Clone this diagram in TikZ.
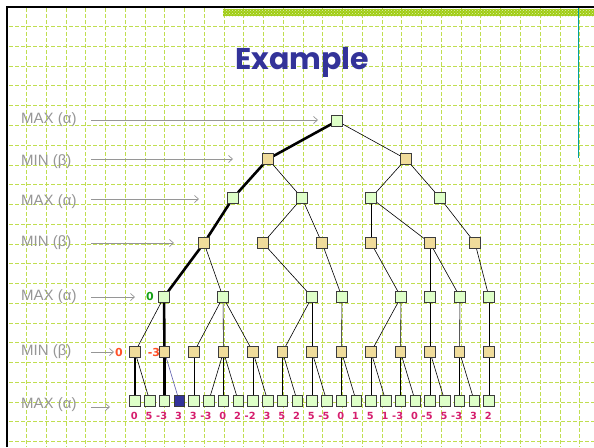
\documentclass[tikz,border=0pt]{standalone}
\usepackage{fontspec}
\setmainfont{Liberation Sans}
\newfontfamily\titlefont{Poppins}
\newfontfamily\numfont{DejaVu Sans}
\usetikzlibrary{patterns,backgrounds,arrows.meta}
\definecolor{gridc}{RGB}{192,222,80}
\definecolor{barc}{RGB}{160,205,20}
\definecolor{titleblue}{RGB}{51,51,153}
\definecolor{maxc}{RGB}{222,255,200}
\definecolor{minc}{RGB}{240,220,155}
\definecolor{lblgray}{RGB}{150,150,150}
\definecolor{leafc}{RGB}{214,30,110}
\definecolor{redc}{RGB}{255,80,40}
\definecolor{greenc}{RGB}{20,160,20}
\definecolor{tealc}{RGB}{0,160,160}
\tikzset{
  gridline/.style={draw=gridc, line width=1pt, dash pattern=on 4pt off 2pt},
  tnode/.style={rectangle, minimum size=10.5pt, inner sep=0pt, draw={rgb,255:red,60;green,60;blue,60}, line width=0.8pt},
  maxn/.style={tnode, fill=maxc},
  minn/.style={tnode, fill=minc},
  edge/.style={draw=black, line width=0.6pt},
  thick edge/.style={draw=black, line width=2.6pt},
  rowlbl/.style={font=\fontsize{15}{15}\selectfont, text=lblgray, inner sep=0pt},
  lblarrow/.style={draw=lblgray, line width=0.7pt, -{Straight Barb[length=4pt,width=7pt]}},
  leafnum/.style={font=\numfont\bfseries\fontsize{9.8}{9.8}\selectfont, text=leafc, inner sep=0pt},
  valnum/.style={font=\numfont\bfseries\fontsize{11}{11}\selectfont, inner sep=0pt}
}
\begin{document}
\begin{tikzpicture}[x=1pt,y=-1pt]
\useasboundingbox (0,0) rectangle (594,447);
\begin{pgfonlayer}{background}
\fill[white] (0,0) rectangle (594,447);
\foreach \k in {0,...,28} \draw[gridline] ({26.5+19.76*\k},8) -- ({26.5+19.76*\k},447);
\foreach \k in {0,...,21} \draw[gridline] (9,{26.7+19.76*\k}) -- (594,{26.7+19.76*\k});
\fill[barc] (223,8.5) rectangle (594,16);
\fill[pattern=crosshatch dots, pattern color=white!70!barc] (223,8.5) rectangle (594,16);
\draw[tealc, line width=1pt] (578,8) -- (578,158);
\draw[black, line width=2.6pt] (7,447) -- (7,7) -- (594,7);
\end{pgfonlayer}

% title
\node[font=\titlefont\bfseries\fontsize{30}{30}\selectfont, text=titleblue] (title) at (302,62) {Example};

% row labels
\node[rowlbl, anchor=west] (l0) at (21,120) {MAX (α)};
\node[rowlbl, anchor=west] (l1) at (21,162) {MIN (β)};
\node[rowlbl, anchor=west] (l2) at (21,202) {MAX (α)};
\node[rowlbl, anchor=west] (l3) at (21,243) {MIN (β)};
\node[rowlbl, anchor=west] (l4) at (21,297) {MAX (α)};
\node[rowlbl, anchor=west] (l5) at (21,352) {MIN (β)};
\node[rowlbl, anchor=west] (l6) at (21,405) {MAX (α)};
\coordinate (s0) at (91,120); \coordinate (t0) at (318,120);
\coordinate (s1) at (91,159); \coordinate (t1) at (233,159);
\coordinate (s2) at (91,199); \coordinate (t2) at (199,199);
\coordinate (s3) at (91,243); \coordinate (t3) at (174,243);
\coordinate (s4) at (91,297); \coordinate (t4) at (135,297);
\coordinate (s5) at (91,352); \coordinate (t5) at (114,352);
\coordinate (s6) at (91,407); \coordinate (t6) at (110,407);
\foreach \i in {0,...,6} \draw[lblarrow] (s\i) -- (t\i);

% tree nodes
\node[maxn] (r) at (337,121) {};
\node[minn] (a1) at (268,159) {};
\node[minn] (a2) at (406,159) {};
\foreach \x [count=\i] in {233,302,371,440} \node[maxn] (b\i) at (\x,198) {};
\foreach \x [count=\i] in {204,263,322,371,430,475} \node[minn] (c\i) at (\x,243) {};
\foreach \x [count=\i] in {164,223,312,342,401,430,460,489} \node[maxn] (d\i) at (\x,297) {};
\foreach \i in {1,...,13} \node[minn] (e\i) at ({135+29.5*(\i-1)},352) {};
\foreach \i in {1,2,3,5,6,7,8,9,10,11,12,13,14,15,16,17,18,19,20,21,22,23,24,25}
  \node[maxn] (f\i) at ({135+14.75*(\i-1)},401) {};
\node[tnode, fill=titleblue] (f4) at ({135+14.75*3},401) {};

% leaf values
\foreach \v [count=\i] in {0,5,-3,3,3,-3,0,2,-2,3,5,2,5,-5,0,1,5,1,-3,0,-5,5,-3,3,2}
  \node[leafnum, anchor=base east] (n\i) at ({135+14.75*(\i-1)+2.8},419) {\v};

% backed-up values
\node[valnum, text=greenc] (g0) at (150,296) {0};
\node[valnum, text=redc] (h0) at (119,352) {0};
\node[valnum, text=redc] (h1) at (154,352) {-3};

% edges
\begin{pgfonlayer}{background}
\draw[thick edge] (r) -- (a1);
\draw[edge] (r) -- (a2);
\draw[thick edge] (a1) -- (b1);
\draw[edge] (a1) -- (b2);
\draw[edge] (a2) -- (b3);
\draw[edge] (a2) -- (b4);
\draw[thick edge] (b1) -- (c1);
\draw[edge] (b2) -- (c2);
\draw[edge] (b2) -- (c3);
\draw[edge] (b3) -- (c4);
\draw[edge] (b3) -- (c5);
\draw[edge] (b4) -- (c6);
\draw[thick edge] (c1) -- (d1);
\draw[edge] (c1) -- (d2);
\draw[edge] (c2) -- (d3);
\draw[edge] (c3) -- (d4);
\draw[edge] (c4) -- (d5);
\draw[edge] (c5) -- (d6);
\draw[edge] (c5) -- (d7);
\draw[edge] (c6) -- (d8);
\draw[edge] (d1) -- (e1);
\draw[thick edge] (d1) -- (e2);
\draw[edge] (d2) -- (e3);
\draw[edge] (d2) -- (e4);
\draw[edge] (d2) -- (e5);
\draw[edge] (d3) -- (e6);
\draw[edge] (d3) -- (e7);
\draw[edge] (d4) -- (e8);
\draw[edge] (d5) -- (e9);
\draw[edge] (d5) -- (e10);
\draw[edge] (d6) -- (e11);
\draw[edge] (d7) -- (e12);
\draw[edge] (d8) -- (e13);
\draw[thick edge] (e1) -- (f1);
\draw[edge] (e1) -- (f2);
\draw[thick edge] (e2) -- (f3);
\draw[draw=titleblue!80, line width=0.6pt] (e2) -- (f4);
\draw[edge] (e3) -- (f5);
\draw[edge] (e4) -- (f6);
\draw[edge] (e4) -- (f7);
\draw[edge] (e4) -- (f8);
\draw[edge] (e5) -- (f9);
\draw[edge] (e5) -- (f10);
\draw[edge] (e6) -- (f11);
\draw[edge] (e6) -- (f12);
\draw[edge] (e7) -- (f13);
\draw[edge] (e7) -- (f14);
\draw[edge] (e8) -- (f15);
\draw[edge] (e8) -- (f16);
\draw[edge] (e9) -- (f17);
\draw[edge] (e9) -- (f18);
\draw[edge] (e10) -- (f19);
\draw[edge] (e10) -- (f20);
\draw[edge] (e11) -- (f21);
\draw[edge] (e11) -- (f22);
\draw[edge] (e12) -- (f23);
\draw[edge] (e12) -- (f24);
\draw[edge] (e13) -- (f25);
\end{pgfonlayer}
\end{tikzpicture}
\end{document}
